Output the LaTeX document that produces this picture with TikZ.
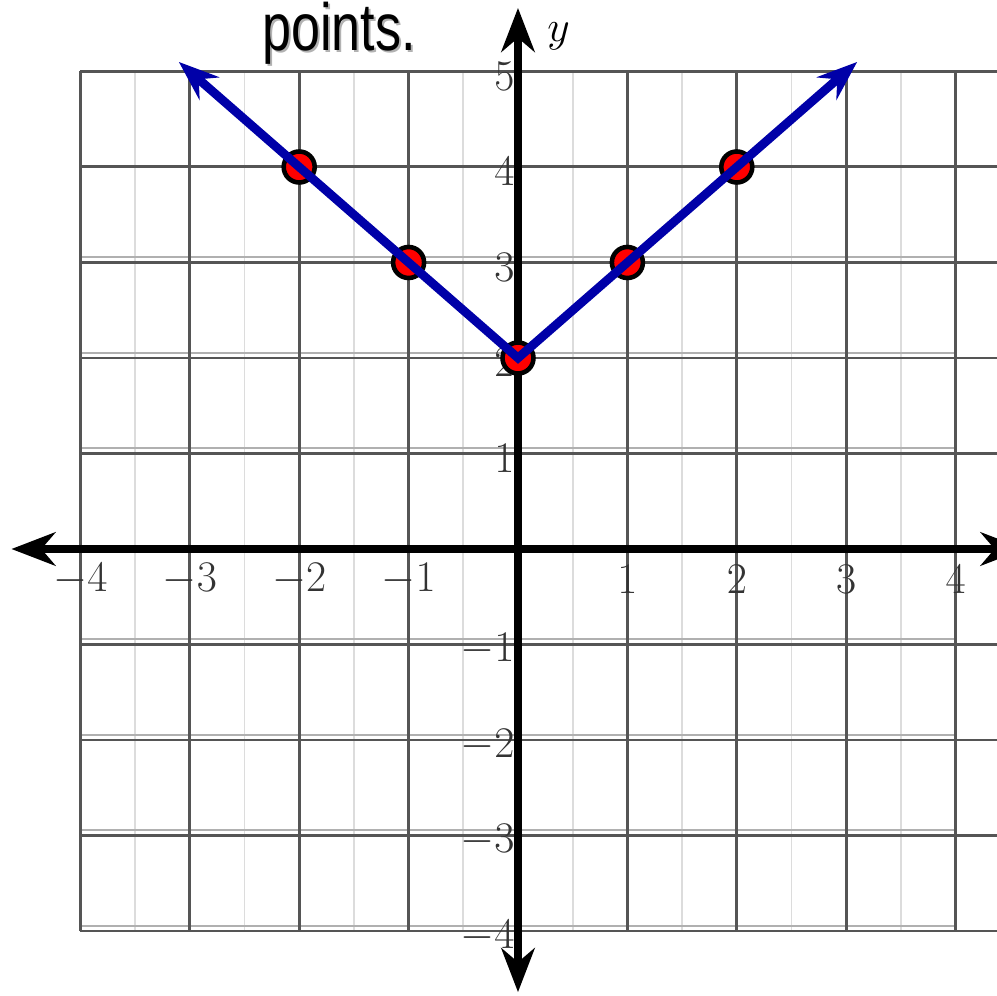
\documentclass[tikz,border=0pt]{standalone}
\usepackage{fontspec}
\usepackage{graphicx}
\newfontfamily\headfont{Liberation Sans}
\usetikzlibrary{arrows.meta}
\definecolor{gridmajor}{HTML}{555555}
\definecolor{gridghost}{HTML}{B0B0B0}
\definecolor{gridminor}{HTML}{DCDCDC}
\definecolor{lineblue}{HTML}{0000A8}
\definecolor{ptred}{HTML}{FF0000}
\definecolor{labelgray}{HTML}{333333}
\begin{document}
\begin{tikzpicture}[x=2.188cm, y=1.91cm,
  minorline/.style={draw=gridminor, line width=1.1pt},
  majorline/.style={draw=gridmajor, line width=1.7pt},
  ghostline/.style={draw=gridghost, line width=1.1pt},
  axisline/.style={draw=black, line width=4pt, {Stealth[length=25pt,width=19pt,inset=8pt]}-{Stealth[length=25pt,width=19pt,inset=8pt]}},
  blueline/.style={draw=lineblue, line width=5pt, {Stealth[length=23pt,width=17pt,inset=8pt]}-{Stealth[length=23pt,width=17pt,inset=8pt]}},
  ptdot/.style={circle, draw=black, line width=2.6pt, fill=ptred, minimum size=0.62cm, inner sep=0pt},
  xlab/.style={text=labelgray, font=\fontsize{25}{27}\selectfont, inner sep=0pt},
  ylab/.style={text=labelgray, font=\fontsize{25}{27}\selectfont, inner sep=0pt, anchor=east},
  axlab/.style={text=black, font=\fontsize{25}{27}\selectfont, inner sep=0pt}
]
\useasboundingbox (-10.36cm,-8.94cm) rectangle (9.58cm,10.98cm);
% minor grid
\foreach \x in {-3.5,-2.5,...,3.5} \draw[minorline] (\x,-4) -- (\x,5);
% ghost lines
\foreach \y in {-4,...,-1,1,2,3} \draw[ghostline] (-4,\y+0.055) -- (4,\y+0.055);
% major grid
\foreach \x in {-4,...,4} \draw[majorline] (\x,-4) -- (\x,5);
\foreach \y in {-4,...,5} \draw[majorline] (-4,\y) -- (4.6,\y);
% axes
\coordinate (xl) at (-4.63,0);
\coordinate (xr) at (4.63,0);
\coordinate (yb) at (0,-4.64);
\coordinate (yt) at (0,5.665);
\draw[axisline] (xl) -- (xr);
\draw[axisline] (yb) -- (yt);
% tick labels
\foreach \x/\n in {-4/xa,-3/xb,-2/xc,-1/xd,1/xe,2/xf,3/xg,4/xh}
  \node[xlab] (\n) at (\x,-0.32) {$\x$};
\foreach \y/\n in {-4/ya,-3/yb2,-2/yc,-1/yd,1/ye,2/yf,3/yg,4/yh,5/yi}
  \node[ylab] (\n) at (-0.03,\y-0.05) {$\y$};
\node[axlab] (ylabel) at (0.37,5.37) {$y$};
\node[axlab] (xlabel) at (4.6,-0.37) {$x$};
% title text
\node[text=black!30, anchor=base, inner sep=0pt] (titleshadow) at ([xshift=0.04cm,yshift=-0.04cm]-1.636,5.225)
  {\scalebox{0.78}[1]{\headfont\fontsize{38}{40}\selectfont points.}};
\node[text=black, anchor=base, inner sep=0pt] (title) at (-1.636,5.225)
  {\scalebox{0.78}[1]{\headfont\fontsize{38}{40}\selectfont points.}};
% points
\node[ptdot] (pa) at (-2,4) {};
\node[ptdot] (pb) at (-1,3) {};
\node[ptdot] (pc) at (0,2) {};
\node[ptdot] (pd) at (1,3) {};
\node[ptdot] (pe) at (2,4) {};
% graph line
\coordinate (tl) at (-3.1,5.1);
\coordinate (tr) at (3.1,5.1);
\draw[blueline] (tl) -- (pc.center) -- (tr);
\end{tikzpicture}
\end{document}
